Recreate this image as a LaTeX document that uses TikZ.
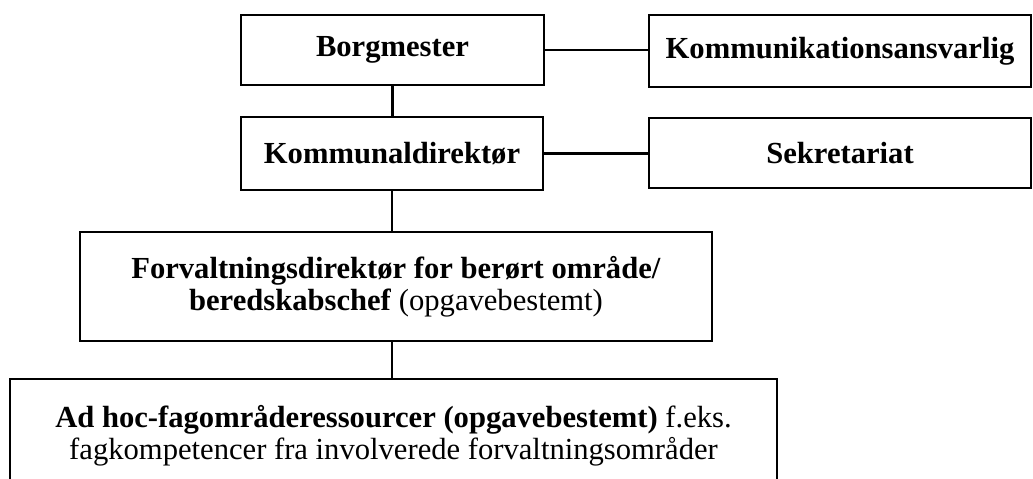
\documentclass[tikz,border=0pt]{standalone}
\usepackage{fontspec}
\setmainfont{Liberation Serif}
\usepackage{tikz}
\tikzset{unit/.style={rectangle, draw, line width=0.8pt, align=center, inner sep=0pt, font=\fontsize{12}{12.5}\selectfont},
  link/.style={line width=0.8pt}}
\newcommand{\orgunit}[5] {\node at (#1) (#2) [unit, minimum width=#3, minimum height=#4] {#5};}
\newcommand{\orglink}[2] {\draw [link] (#1) -- (#2);}
\begin{document}
\begin{tikzpicture}[x=0.392pt, y=-0.392pt]
\useasboundingbox (0,0) rectangle (1033,478);

\orgunit {392.5,50}{borg}{118.8pt}{27.4pt}{\textbf{Borgmester}}
\orgunit {840,51}{komm}{150.1pt}{28.2pt}{\textbf{Kommunikationsansvarlig}}
\orglink {borg.east}{borg.east -| komm.west}

\orgunit {392,153.5}{kdir}{118.4pt}{28.6pt}{\textbf{Kommunaldirektør}}
\orgunit {840,153}{sekr}{149.7pt}{27.4pt}{\textbf{Sekretariat}}
\orglink {borg.south}{borg.south |- kdir.north}
\orglink {kdir.east}{kdir.east -| sekr.west}

\orgunit {396,286.5}{forv}{247.7pt}{42.7pt}{\textbf{Forvaltningsdirektør for berørt område/}\\\textbf{beredskabschef} (opgavebestemt)}
\orglink {kdir.south}{kdir.south |- forv.north}

\orgunit {393.5,436}{adhoc}{300.7pt}{44.7pt}{\textbf{Ad hoc-fagområderessourcer (opgavebestemt)} f.eks.\\fagkompetencer fra involverede forvaltningsområder}
\orglink {kdir.south |- forv.south}{kdir.south |- adhoc.north}

\end{tikzpicture}
\end{document}
